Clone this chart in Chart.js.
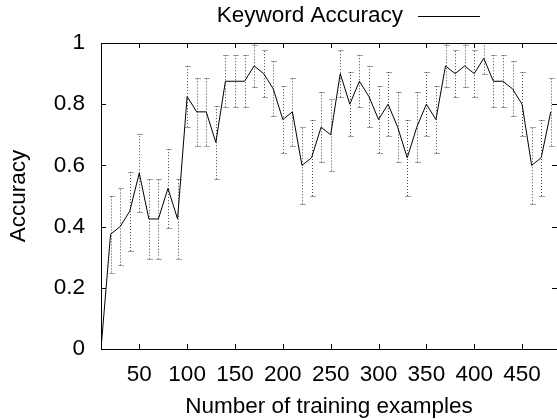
<!DOCTYPE html>
<html>
<head>
<meta charset="utf-8">
<script src="https://cdn.jsdelivr.net/npm/chart.js@4"></script>
<style>
  body { margin: 0; background: #fff; }
</style>
</head>
<body>
<canvas id="myChart" width="557" height="419"></canvas>
<script>
// 学習例の数
const examples = [10, 20, 30, 40, 50, 60, 70, 80, 90, 100,
  110, 120, 130, 140, 150, 160, 170, 180, 190, 200,
  210, 220, 230, 240, 250, 260, 270, 280, 290, 300,
  310, 320, 330, 340, 350, 360, 370, 380, 390, 400,
  410, 420, 430, 440, 450, 460, 470, 480];

const accuracy = [0, 0.375, 0.4, 0.45, 0.575, 0.425, 0.425, 0.525, 0.425, 0.825,
  0.775, 0.775, 0.675, 0.875, 0.875, 0.875, 0.925, 0.9, 0.85, 0.75,
  0.775, 0.6, 0.625, 0.725, 0.7, 0.9, 0.8, 0.875, 0.825, 0.75,
  0.8, 0.725, 0.625, 0.725, 0.8, 0.75, 0.925, 0.9, 0.925, 0.9,
  0.95, 0.875, 0.875, 0.85, 0.8, 0.6, 0.625, 0.775];

// 誤差（±）
const errors = [0, 0.125, 0.127, 0.13, 0.128, 0.13, 0.13, 0.13, 0.13, 0.1,
  0.11, 0.11, 0.12, 0.085, 0.085, 0.085, 0.07, 0.077, 0.09, 0.11,
  0.11, 0.127, 0.125, 0.115, 0.117, 0.077, 0.104, 0.085, 0.1, 0.11,
  0.104, 0.115, 0.125, 0.115, 0.104, 0.11, 0.07, 0.077, 0.07, 0.077,
  0.05, 0.085, 0.085, 0.09, 0.104, 0.127, 0.125, 0.11];

const xTicks = [50, 100, 150, 200, 250, 300, 350, 400, 450];
const yTicks = [0, 0.2, 0.4, 0.6, 0.8, 1];

const FONT = 'Liberation Sans, Arial, sans-serif';
const FSIZE = 22.5;

// エラーバー・枠線・目盛り・凡例
const gnuplotStyle = {
  id: 'gnuplotStyle',
  beforeDatasetsDraw(chart) {
    const ctx = chart.ctx;
    const x = chart.scales.x, y = chart.scales.y;
    const a = chart.chartArea;
    ctx.save();
    ctx.beginPath();
    ctx.rect(a.left, a.top - 1, a.right - a.left, a.bottom - a.top + 2);
    ctx.clip();
    ctx.strokeStyle = '#444';
    ctx.lineWidth = 1;
    examples.forEach((ex, i) => {
      if (!errors[i]) return;
      const px = Math.round(x.getPixelForValue(ex)) + 0.5;
      const lo = y.getPixelForValue(accuracy[i] - errors[i]);
      const hi = y.getPixelForValue(Math.min(1, accuracy[i] + errors[i]));
      ctx.setLineDash([1, 2]);
      ctx.beginPath();
      ctx.moveTo(px, lo);
      ctx.lineTo(px, hi);
      ctx.stroke();
      ctx.setLineDash([1, 1]);
      ctx.beginPath();
      ctx.moveTo(px - 2, Math.round(lo) + 0.5);
      ctx.lineTo(px + 3, Math.round(lo) + 0.5);
      ctx.moveTo(px - 2, Math.round(hi) + 0.5);
      ctx.lineTo(px + 3, Math.round(hi) + 0.5);
      ctx.stroke();
    });
    ctx.restore();
  },
  afterDraw(chart) {
    const ctx = chart.ctx;
    const x = chart.scales.x, y = chart.scales.y;
    const a = chart.chartArea;
    ctx.save();
    ctx.strokeStyle = '#000';
    ctx.lineWidth = 1;
    ctx.setLineDash([]);
    ctx.beginPath();
    ctx.moveTo(a.left, a.top + 0.5);
    ctx.lineTo(a.right, a.top + 0.5);
    ctx.stroke();
    ctx.beginPath();
    xTicks.forEach(v => {
      const px = Math.round(x.getPixelForValue(v)) + 0.5;
      ctx.moveTo(px, a.bottom);
      ctx.lineTo(px, a.bottom - 5);
      ctx.moveTo(px, a.top);
      ctx.lineTo(px, a.top + 5);
    });
    yTicks.forEach(v => {
      const py = Math.round(y.getPixelForValue(v)) + 0.5;
      ctx.moveTo(a.left, py);
      ctx.lineTo(a.left + 5, py);
      ctx.moveTo(a.right, py);
      ctx.lineTo(a.right - 5, py);
    });
    ctx.stroke();

    // 凡例
    ctx.fillStyle = '#000';
    ctx.font = FSIZE + 'px ' + FONT;
    ctx.textAlign = 'right';
    ctx.textBaseline = 'middle';
    ctx.fillText(chart.data.datasets[0].label, 403, 16);
    ctx.beginPath();
    ctx.moveTo(418, 16.5);
    ctx.lineTo(480, 16.5);
    ctx.stroke();
    ctx.restore();
  }
};

new Chart(document.getElementById('myChart'), {
  type: 'line',
  data: {
    datasets: [{
      label: 'Keyword Accuracy',
      data: examples.map((ex, i) => ({ x: ex, y: accuracy[i] })),
      borderColor: '#000',
      borderWidth: 1,
      pointRadius: 0,
      tension: 0,
      fill: false
    }]
  },
  options: {
    responsive: false,
    devicePixelRatio: 1,
    animation: false,
    layout: { padding: { top: 43, right: 0, left: 0, bottom: 0 } },
    plugins: {
      legend: { display: false },
      tooltip: { enabled: false }
    },
    scales: {
      x: {
        type: 'linear',
        min: 10,
        max: 486.5,
        afterBuildTicks: s => { s.ticks = xTicks.map(v => ({ value: v })); },
        afterFit: s => { s.height = 70; },
        grid: { display: false, drawTicks: false },
        border: { display: true, color: '#000', width: 1 },
        ticks: { color: '#000', padding: 12, maxRotation: 0, font: { family: FONT, size: FSIZE } },
        title: {
          display: true,
          text: 'Number of training examples',
          color: '#000',
          padding: { top: 0, bottom: -1 },
          font: { family: FONT, size: FSIZE }
        }
      },
      y: {
        min: 0,
        max: 1,
        afterBuildTicks: s => { s.ticks = yTicks.map(v => ({ value: v })); },
        afterFit: s => { s.width = 101; },
        grid: { display: false, drawTicks: false },
        border: { display: true, color: '#000', width: 1 },
        ticks: {
          color: '#000',
          padding: 16,
          font: { family: FONT, size: FSIZE },
          callback: v => String(Math.round(v * 10) / 10)
        },
        title: {
          display: true,
          text: 'Accuracy',
          color: '#000',
          padding: { top: 5, bottom: 0 },
          font: { family: FONT, size: FSIZE }
        }
      }
    }
  },
  plugins: [gnuplotStyle]
});
</script>
</body>
</html>
